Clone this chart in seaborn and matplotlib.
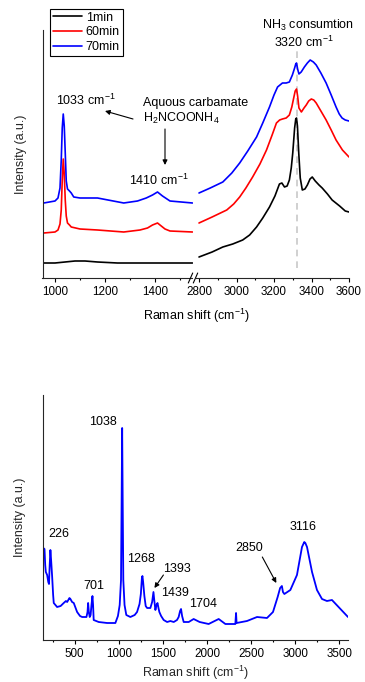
import numpy as np
import pandas as pd
import matplotlib
matplotlib.use("Agg")
import matplotlib.pyplot as plt
import seaborn as sns
from matplotlib.lines import Line2D

# ---------------- data ----------------
series_names = ["1min", "60min", "70min"]
series_colors = ["#000000", "#ff0000", "#0000ff"]

# top panel, left segment (carbamate region)
left_x_1min = [955, 1000, 1040, 1080, 1120, 1170, 1250, 1300, 1400, 1480, 1550]
left_y_1min = [15, 15, 16, 17, 17, 16, 15, 15, 15, 15, 15]
left_x_60min = [955, 1000, 1012, 1020, 1025, 1029, 1033, 1037, 1041, 1045, 1050, 1058, 1065,
                1100, 1170, 1275, 1340, 1370, 1390, 1410, 1425, 1440, 1460, 1550]
left_y_60min = [45, 46, 48, 54, 68, 98, 119, 104, 78, 62, 55, 53, 51,
                49, 48, 46, 48, 50, 53, 55, 52, 49, 47, 46]
left_x_70min = [955, 1000, 1012, 1020, 1025, 1029, 1033, 1037, 1041, 1045, 1050, 1058, 1065,
                1075, 1100, 1170, 1275, 1330, 1365, 1390, 1410, 1430, 1460, 1550]
left_y_70min = [75, 77, 80, 90, 118, 150, 164, 152, 125, 97, 89, 87, 85,
                81, 80, 80, 75, 77, 80, 83, 86, 82, 77, 75]

# top panel, right segment (NH3 region)
right_x_1min = [2800, 2870, 2927, 2980, 3033, 3070, 3107, 3140, 3176, 3205, 3229, 3242, 3256,
                3270, 3282, 3292, 3300, 3310, 3316, 3320, 3325, 3332, 3340, 3351, 3365, 3378,
                3392, 3404, 3420, 3440, 3457, 3485, 3510, 3550, 3580, 3600]
right_y_1min = [21, 26, 31, 34, 38, 43, 51, 60, 71, 82, 94, 95, 91,
                92, 98, 110, 125, 150, 159, 160, 152, 125, 100, 88, 89, 93,
                99, 101, 97, 93, 90, 84, 78, 72, 67, 66]
right_x_60min = [2800, 2870, 2948, 2985, 3017, 3050, 3086, 3125, 3160, 3190, 3213, 3230, 3245,
                 3265, 3282, 3295, 3305, 3313, 3320, 3326, 3333, 3346, 3360, 3372, 3385, 3399,
                 3412, 3425, 3450, 3478, 3505, 3531, 3565, 3600]
right_y_60min = [55, 61, 68, 74, 81, 90, 101, 114, 128, 143, 155, 158, 159,
                 160, 163, 171, 180, 187, 189, 182, 170, 166, 170, 173, 177, 179,
                 178, 175, 167, 158, 148, 138, 128, 121]
right_x_70min = [2800, 2860, 2927, 2975, 3017, 3060, 3107, 3140, 3176, 3200, 3219, 3245, 3265,
                 3282, 3298, 3310, 3316, 3320, 3326, 3333, 3345, 3362, 3378, 3393, 3410, 3425,
                 3450, 3478, 3505, 3531, 3548, 3563, 3580, 3600]
right_y_70min = [85, 90, 96, 105, 115, 127, 141, 155, 171, 183, 191, 195, 195,
                 196, 203, 210, 214, 215, 209, 204, 206, 211, 215, 218, 216, 213,
                 205, 195, 183, 171, 164, 160, 158, 157]

# bottom panel spectrum
bot_x = [142, 157, 165, 172, 187, 200, 208, 216, 224, 232, 244, 255, 262, 300, 340, 375, 400, 414,
         440, 451, 470, 489, 510, 527, 560, 584, 633, 645, 652, 660, 670, 680, 690, 701, 708, 715,
         772, 867, 961, 990, 1010, 1025, 1032, 1038, 1044, 1051, 1065, 1085, 1131, 1180, 1207,
         1235, 1250, 1262, 1268, 1276, 1290, 1305, 1321, 1358, 1378, 1393, 1402, 1415, 1428,
         1439, 1450, 1460, 1480, 1509, 1548, 1585, 1623, 1660, 1679, 1695, 1706, 1718, 1736,
         1793, 1849, 1917, 2019, 2133, 2209, 2322, 2330, 2336, 2454, 2568, 2681, 2749, 2802,
         2830, 2850, 2862, 2878, 2946, 3021, 3078, 3104, 3116, 3135, 3192, 3248, 3305, 3361,
         3418, 3493, 3600]
bot_y = [92, 91, 75, 68, 65, 58, 56, 75, 90, 80, 63, 45, 37, 33, 34, 37, 39, 38,
         42, 41, 38, 37, 32, 28, 24, 23, 23, 28, 37, 28, 23, 25, 35, 44, 35, 20,
         18, 17, 17, 24, 35, 60, 140, 212, 140, 60, 35, 25, 23, 25, 28,
         36, 46, 62, 64, 58, 44, 34, 32, 32, 38, 48, 40, 30, 35,
         37, 32, 28, 24, 20, 18, 19, 18, 20, 23, 29, 31, 24, 18,
         18, 21, 18, 16, 21, 16, 16, 27, 17, 19, 23, 22, 28, 43,
         52, 54, 48, 46, 50, 65, 93, 98, 97, 93, 68, 50, 41, 39,
         40, 33, 23]

bottom_labels = ["226", "701", "1038", "1268", "1393", "1439", "1704", "2850", "3116"]
nh3_peak = 3320

# ---------------- style ----------------
sns.set_style("ticks")
plt.rcParams["font.family"] = ["Liberation Sans", "DejaVu Sans"]
plt.rcParams["mathtext.fontset"] = "custom"
plt.rcParams["mathtext.rm"] = "Liberation Sans"
plt.rcParams["mathtext.it"] = "Liberation Sans:italic"
plt.rcParams["mathtext.bf"] = "Liberation Sans:bold"
plt.rcParams["axes.linewidth"] = 0.8
plt.rcParams["xtick.major.width"] = 0.8
plt.rcParams["xtick.minor.width"] = 0.8
plt.rcParams["xtick.major.size"] = 3
plt.rcParams["xtick.minor.size"] = 1.6
plt.rcParams["xtick.direction"] = "out"
plt.rcParams["xtick.labelsize"] = 8.4
plt.rcParams["xtick.color"] = "black"
plt.rcParams["text.color"] = "black"

W, H = 365, 682
fig = plt.figure(figsize=(W / 100, H / 100), dpi=100)


def fr(x0, y0, x1, y1):
    return [x0 / W, 1 - y1 / H, (x1 - x0) / W, (y1 - y0) / H]


axL = fig.add_axes(fr(42.5, 30, 192.5, 278))
axR = fig.add_axes(fr(196, 30, 349, 278))
axB = fig.add_axes(fr(43, 395, 348, 640))
for a in (axL, axR, axB):
    a.set_facecolor("none")

lw = 1.2
left_sets = [(left_x_1min, left_y_1min), (left_x_60min, left_y_60min), (left_x_70min, left_y_70min)]
right_sets = [(right_x_1min, right_y_1min), (right_x_60min, right_y_60min), (right_x_70min, right_y_70min)]
for (lx, ly), (rx, ry), name, col in zip(left_sets, right_sets, series_names, series_colors):
    sns.lineplot(x=lx, y=ly, ax=axL, color=col, lw=lw, sort=False)
    sns.lineplot(x=rx, y=ry, ax=axR, color=col, lw=lw, sort=False)

axL.set_xlim(950, 1550)
axR.set_xlim(2784, 3600)
for a in (axL, axR):
    a.set_ylim(0, 248)
    a.set_yticks([])
    a.set_ylabel("")
    a.spines["top"].set_visible(False)
    a.spines["right"].set_visible(False)
    a.tick_params(axis="x", which="both", top=False, pad=2.5)
axR.spines["left"].set_visible(False)

axL.set_xticks([1000, 1200, 1400])
axL.set_xticks([1100, 1300, 1500], minor=True)
axR.set_xticks([2800, 3000, 3200, 3400, 3600])
axR.set_xticks([2900, 3100, 3300, 3500], minor=True)

axL.set_ylabel("Intensity (a.u.)", fontsize=9, labelpad=11)

# break marks
for xb in (190.5, 195.5):
    fig.add_artist(Line2D([(xb - 2.2) / W, (xb + 2.2) / W], [1 - 283 / H, 1 - 273 / H],
                          color="black", lw=0.8, transform=fig.transFigure))

# NH3 dashed line
axR.axvline(nh3_peak, ymin=10 / 248, ymax=228 / 248, color="#c8c8c8", lw=1.2, ls=(0, (4, 3)),
            zorder=0)

# top annotations
fs = 9
axL.text(1122, 178, "1033 cm$^{-1}$", ha="center", va="center", fontsize=fs)
axL.text(1352, 175, "Aquous carbamate", ha="left", va="center", fontsize=fs, clip_on=False)
axL.text(1352, 160, "H$_2$NCOONH$_4$", ha="left", va="center", fontsize=fs, clip_on=False)
axL.text(1414, 98, "1410 cm$^{-1}$", ha="center", va="center", fontsize=fs)
ap = dict(arrowstyle="-|>", color="black", lw=0.8, mutation_scale=7, shrinkA=0, shrinkB=0)
axL.annotate("", xy=(1200, 167), xytext=(1312, 159), arrowprops=ap)
axL.annotate("", xy=(1440, 113), xytext=(1440, 149), arrowprops=ap)
axR.text(3381, 253, "NH$_3$ consumtion", ha="center", va="center", fontsize=fs, clip_on=False)
axR.text(3360, 236, "3320 cm$^{-1}$", ha="center", va="center", fontsize=fs, clip_on=False)

fig.text(196 / W, 1 - 316 / H, "Raman shift (cm$^{-1}$)", ha="center", va="center", fontsize=9)

# legend
handles = [Line2D([], [], color=c, lw=lw) for c in series_colors]
leg = fig.legend(handles, series_names, loc="upper left", bbox_to_anchor=(50 / W, 1 - 8.5 / H),
                 frameon=True, fancybox=False, edgecolor="black", framealpha=1,
                 borderpad=0.25, labelspacing=0.22, handlelength=2.3, handletextpad=0.3,
                 borderaxespad=0, fontsize=9)
leg.get_frame().set_linewidth(0.8)

# ---------------- bottom panel ----------------
sns.lineplot(x=bot_x, y=bot_y, ax=axB, color="#0000ff", lw=1.3, sort=False)
axB.set_xlim(140, 3600)
axB.set_ylim(0, 245)
axB.set_yticks([])
axB.spines["top"].set_visible(False)
axB.spines["right"].set_visible(False)
axB.set_xticks([500, 1000, 1500, 2000, 2500, 3000, 3500])
axB.set_xticks([250, 750, 1250, 1750, 2250, 2750, 3250], minor=True)
axB.tick_params(axis="x", which="both", top=False, pad=2.5)
axB.set_ylabel("Intensity (a.u.)", fontsize=9, labelpad=12)
axB.set_xlabel("Raman shift (cm$^{-1}$)", fontsize=9, labelpad=3)

label_pos = [(315, 106), (712, 54), (825, 218), (1256, 81), (1664, 71), (1642, 47),
             (1958, 36), (2481, 92), (3093, 113)]
for txt, (tx, ty) in zip(bottom_labels, label_pos):
    axB.text(tx, ty, txt, ha="center", va="center", fontsize=fs)
axB.annotate("", xy=(1404, 52), xytext=(1506, 65), arrowprops=ap)
axB.annotate("", xy=(2787, 57), xytext=(2628, 83), arrowprops=ap)

fig.savefig("out.png", dpi=100)
